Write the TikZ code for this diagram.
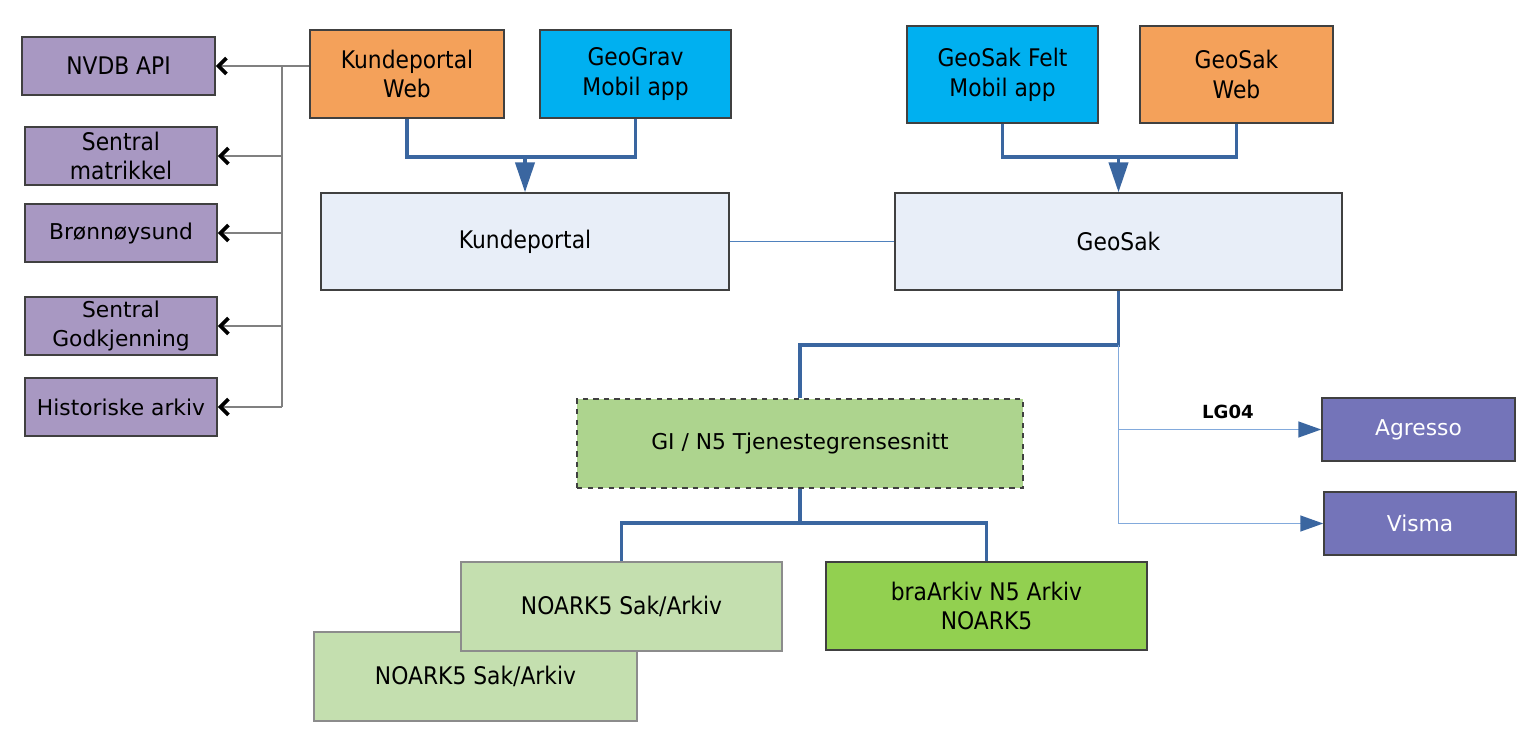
\documentclass[tikz,border=0pt]{standalone}
\usepackage{fontspec}
\setmainfont{DejaVu Sans}
\newfontfamily\narrowfont[FakeStretch=0.9]{DejaVu Sans}
\usetikzlibrary{arrows.meta}

\definecolor{lilla}{RGB}{168,152,194}
\definecolor{oransje}{RGB}{244,161,90}
\definecolor{cyanapp}{RGB}{0,176,240}
\definecolor{lysblaa}{RGB}{232,238,248}
\definecolor{gigronn}{RGB}{173,212,142}
\definecolor{blekgronn}{RGB}{196,223,175}
\definecolor{sterkgronn}{RGB}{146,208,80}
\definecolor{fiolett}{RGB}{116,116,185}
\definecolor{morkblaa}{RGB}{58,102,160}
\definecolor{midtblaa}{RGB}{79,129,189}
\definecolor{strekblaa}{RGB}{130,170,220}

\begin{document}
\begin{tikzpicture}[x=0.02cm,y=-0.02cm,
				main node/.style = {rectangle,draw=black!75,line width=0.9pt,inner sep=0pt,align=center,font=\fontsize{12.4}{17}\selectfont},
				narrow node/.style = {main node,font=\narrowfont\fontsize{13.8}{17}\selectfont},
				bus/.style = {draw=morkblaa,line width=1.8pt},
				thin bus/.style = {draw=strekblaa,line width=1pt},
				gray bus/.style = {draw=black!50,line width=0.85pt}]
				\useasboundingbox (0,0) rectangle (1524,750);
				
				% eksterne tjenester
				\node[narrow node,fill=lilla,minimum width=3.86cm,minimum height=1.16cm] (1) at (118.5,66) {NVDB API};
				\node[narrow node,fill=lilla,minimum width=3.84cm,minimum height=1.16cm] (2) at (121,156) {Sentral\\matrikkel};
				\node[main node,fill=lilla,minimum width=3.84cm,minimum height=1.16cm] (3) at (121,233) {Brønnøysund};
				\node[main node,fill=lilla,minimum width=3.84cm,minimum height=1.16cm] (4) at (121,326) {Sentral\\Godkjenning};
				\node[main node,fill=lilla,minimum width=3.84cm,minimum height=1.16cm] (5) at (121,407) {Historiske arkiv};
				
				% klienter
				\node[narrow node,fill=oransje,minimum width=3.88cm,minimum height=1.76cm] (6) at (407,74) {Kundeportal\\Web};
				\node[narrow node,fill=cyanapp,minimum width=3.82cm,minimum height=1.76cm] (7) at (635.5,74) {GeoGrav\\Mobil app};
				\node[narrow node,fill=cyanapp,minimum width=3.82cm,minimum height=1.94cm] (8) at (1002.5,74.5) {GeoSak Felt\\Mobil app};
				\node[narrow node,fill=oransje,minimum width=3.86cm,minimum height=1.94cm] (9) at (1236.5,74.5) {GeoSak\\Web};
				
				% kjerne
				\node[narrow node,fill=lysblaa,minimum width=8.16cm,minimum height=1.94cm] (10) at (525,241.5) {Kundeportal};
				\node[narrow node,fill=lysblaa,minimum width=8.94cm,minimum height=1.94cm] (11) at (1118.5,241.5) {GeoSak};
				\node[main node,fill=gigronn,dashed,minimum width=8.92cm,minimum height=1.78cm] (12) at (800,443.5) {GI / N5 Tjenestegrensesnitt};
				
				% arkiv
				\node[narrow node,fill=blekgronn,draw=black!45,minimum width=6.46cm,minimum height=1.78cm] (13) at (475.5,676.5) {NOARK5 Sak/Arkiv};
				\node[narrow node,fill=blekgronn,draw=black!45,minimum width=6.42cm,minimum height=1.78cm] (14) at (621.5,606.5) {NOARK5 Sak/Arkiv};
				\node[narrow node,fill=sterkgronn,minimum width=6.42cm,minimum height=1.76cm] (15) at (986.5,606) {braArkiv N5 Arkiv\\NOARK5};
				
				% okonomi
				\node[main node,fill=fiolett,text=white,minimum width=3.86cm,minimum height=1.26cm] (16) at (1418.5,429.5) {Agresso};
				\node[main node,fill=fiolett,text=white,minimum width=3.84cm,minimum height=1.26cm] (17) at (1420,523.5) {Visma};
				
				\coordinate (b1) at (282,68);
				\coordinate (j1) at (525,157);
				\coordinate (j2) at (1118.5,157);
				\coordinate (j3) at (1118.5,345);
				\coordinate (j4) at (800,523);
				
				\draw[gray bus] (b1 |- 1.east) -- (6.west |- 1.east);
				\draw[gray bus] (b1 |- 1.east) -- (b1 |- 5.east);
				\foreach \n in {1,...,5}
				\draw[gray bus,{Straight Barb[length=4.5pt,width=9pt,line width=2.2pt,color=black]}-] (\n.east) -- (b1 |- \n.east);
				
				\draw[bus] (6.south) |- (j1) -| (7.south);
				\draw[bus,-{Triangle[length=17pt,width=11pt]}] (j1) -- (10.north);
				\draw[bus] (8.south) |- (j2) -| (9.south);
				\draw[bus,-{Triangle[length=17pt,width=11pt]}] (j2) -- (11.north);
				
				\draw[draw=midtblaa,line width=0.8pt] (10.east) -- (11.west);
				\draw[bus] (11.south) -- (j3) -| (12.north);
				\draw[thin bus,-{Triangle[length=13pt,width=9pt,color=morkblaa]}] (j3) |- (16.west)
				node[pos=0.77,above,yshift=2pt,font=\bfseries\fontsize{10.3}{12}\selectfont] {LG04};
				\draw[thin bus,-{Triangle[length=13pt,width=9pt,color=morkblaa]}] (j3) |- (17.west);
				
				\draw[bus] (12.south) -- (j4);
				\draw[bus] (14.north) |- (j4) -| (15.north);
				\end{tikzpicture}
\end{document}
